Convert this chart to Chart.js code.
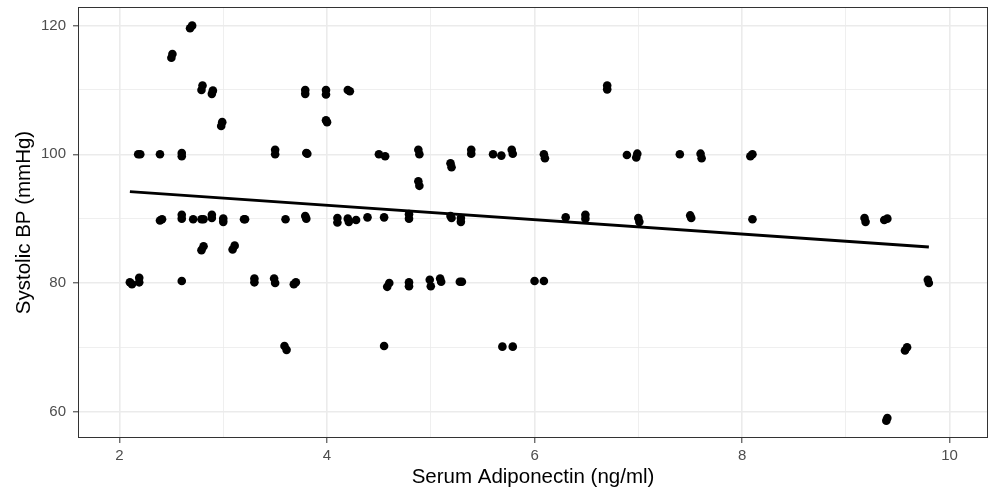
<!DOCTYPE html>
<html>
<head>
<meta charset="utf-8">
<script src="https://cdn.jsdelivr.net/npm/chart.js@4"></script>
<style>
  html, body { margin:0; padding:0; background:#fff; }
  #wrap { width:988px; height:490px; }
</style>
</head>
<body>
<div id="wrap"><canvas id="chart"></canvas></div>
<script>
// ================= DATA =================
const adiponectin = [
  2.68,2.70, 2.50,2.51, 2.79,2.80, 2.89,2.90, 2.98,2.99,
  2.18,2.20, 2.39, 2.60,2.60, 3.50,3.50, 3.79,3.79, 3.80,3.81,
  2.39,2.41, 2.60,2.60, 2.71, 2.81,2.79, 2.89,2.89, 3.00,3.00,
  3.20,3.21, 3.60, 3.79,3.80, 2.79,2.81, 3.09,3.11,
  2.10,2.12, 2.19,2.19, 2.60, 3.30,3.30, 3.49,3.50, 3.68,3.70, 3.59,3.61,
  3.99,3.99, 4.20,4.22, 3.99,4.00, 4.50,4.56, 4.88,4.89, 4.88,4.89,
  5.19,5.20, 5.39,5.39, 5.60, 5.68, 5.78,5.79, 6.09,6.10, 6.70,6.70,
  6.89, 6.98,6.99, 7.40, 7.60,7.61, 8.08,8.10,
  6.30, 6.49,6.49, 7.00,7.01, 7.50,7.51, 8.10, 6.00, 6.09,
  9.18,9.19, 9.37,9.40, 9.79,9.80, 9.57,9.59, 9.39,9.40,
  4.10,4.10, 4.20,4.21, 4.28, 4.39, 4.55, 4.79,4.79, 5.19,5.20, 5.29,5.29,
  4.58,4.60, 4.79,4.79, 4.99,5.00, 5.09,5.10, 5.28,5.30,
  4.55, 5.69, 5.79
];
const systolicBP = [
  119.6,120.0, 115.0,115.6, 110.0,110.7, 109.4,109.9, 104.4,105.0,
  100.0,100.0, 100.0, 100.2,99.7, 100.7,100.0, 110.0,109.4, 100.2,100.1,
  89.7,89.9, 90.6,90.0, 89.9, 89.9,89.9, 90.6,90.1, 90.0,89.5,
  89.9,89.9, 89.9, 90.4,90.0, 85.1,85.7, 85.2,85.8,
  80.1,79.8, 80.8,80.1, 80.3, 80.7,80.1, 80.7,80.0, 79.8,80.1, 70.2,69.6,
  110.0,109.3, 110.0,109.8, 105.3,105.0, 100.0,99.7, 100.7,100.0, 95.8,95.1,
  98.6,98.0, 100.7,100.1, 100.0, 99.8, 100.7,100.1, 100.0,99.4, 110.7,110.1,
  99.9, 99.5,100.1, 100.0, 100.1,99.4, 99.7,100.0,
  90.2, 90.6,90.0, 90.1,89.5, 90.5,90.1, 89.9, 80.3, 80.3,
  90.1,89.5, 89.8,90.0, 80.5,80.0, 69.5,70.0, 58.6,59.0,
  90.1,89.4, 90.0,89.5, 89.8, 90.2, 90.2, 90.7,90.0, 90.4,90.1, 90.1,89.5,
  79.4,80.0, 80.1,79.5, 80.5,79.5, 80.7,80.2, 80.2,80.2,
  70.2, 70.1, 70.1
];

// fitted line at its two ends
const fitX = [2.1, 9.8];
const fitY = [94.2, 85.6];

// gridlines (major + minor) and labelled ticks
const xGrid = [2,3,4,5,6,7,8,9,10];
const xLabels = [2,4,6,8,10];
const yGrid = [60,70,80,90,100,110,120];
const yLabels = [60,80,100,120];

const points = adiponectin.map((x,i) => ({x:x, y:systolicBP[i]}));
const fit = fitX.map((x,i) => ({x:x, y:fitY[i]}));

// ================= PANEL BORDER =================
const panelBorder = {
  id: "panelBorder",
  afterDatasetsDraw(chart){
    const a = chart.chartArea, ctx = chart.ctx;
    ctx.save();
    ctx.strokeStyle = "#333333";
    ctx.lineWidth = 1;
    ctx.strokeRect(a.left+0.5, a.top+0.5, a.right-a.left-1, a.bottom-a.top-1);
    ctx.restore();
  }
};

// no extra room for edge labels, the panel fills the window
function noPad(axis){
  axis.paddingTop = 0; axis.paddingBottom = 0;
  axis.paddingLeft = 0; axis.paddingRight = 0;
}

// ================= CHART =================
const ctx = document.getElementById("chart").getContext("2d");
new Chart(ctx, {
  type: "scatter",
  data: {
    datasets: [{
      data: points,
      backgroundColor: "#000",
      borderWidth: 0,
      pointRadius: 4.3,
      pointHoverRadius: 4.3
    },{
      type: "line",
      data: fit,
      borderColor: "#000",
      borderWidth: 3,
      pointRadius: 0,
      fill: false
    }]
  },
  options: {
    responsive: true,
    maintainAspectRatio: false,
    animation: false,
    events: [],
    layout: { autoPadding: false, padding: { top: 7, right: 0, left: 0, bottom: 0 } },
    plugins: { legend: { display: false }, tooltip: { enabled: false } },
    scales: {
      x: {
        type: "linear",
        min: 1.6, max: 10.37,
        afterBuildTicks: axis => { axis.ticks = xGrid.map(v => ({value:v})); },
        afterFit: axis => { axis.height = 52; noPad(axis); },
        grid: {
          color: "#ebebeb",
          lineWidth: c => xLabels.includes(c.tick.value) ? 1.6 : 0.8,
          tickColor: c => xLabels.includes(c.tick.value) ? "#333333" : "rgba(0,0,0,0)",
          tickLength: 5,
          tickWidth: 1
        },
        border: { display: false },
        ticks: {
          autoSkip: false, maxRotation: 0, padding: 4,
          color: "#4d4d4d",
          font: { family: "Liberation Sans, Arial", size: 15 },
          callback: v => xLabels.includes(v) ? String(v) : ""
        },
        title: {
          display: true, text: "Serum Adiponectin (ng/ml)",
          color: "#000", padding: { top: 0, bottom: 0 },
          font: { family: "Liberation Sans, Arial", size: 20.5 }
        }
      },
      y: {
        type: "linear",
        min: 55.9, max: 122.9,
        afterBuildTicks: axis => { axis.ticks = yGrid.map(v => ({value:v})); },
        afterFit: axis => { axis.width = 78; noPad(axis); },
        grid: {
          color: "#ebebeb",
          lineWidth: c => yLabels.includes(c.tick.value) ? 1.6 : 0.8,
          tickColor: c => yLabels.includes(c.tick.value) ? "#333333" : "rgba(0,0,0,0)",
          tickLength: 5,
          tickWidth: 1
        },
        border: { display: false },
        ticks: {
          autoSkip: false, padding: 7,
          color: "#4d4d4d",
          font: { family: "Liberation Sans, Arial", size: 15 },
          callback: v => yLabels.includes(v) ? String(v) : ""
        },
        title: {
          display: true, text: "Systolic BP (mmHg)",
          color: "#000", padding: { top: 12, bottom: 0 },
          font: { family: "Liberation Sans, Arial", size: 20.5 }
        }
      }
    }
  },
  plugins: [panelBorder]
});
</script>
</body>
</html>
